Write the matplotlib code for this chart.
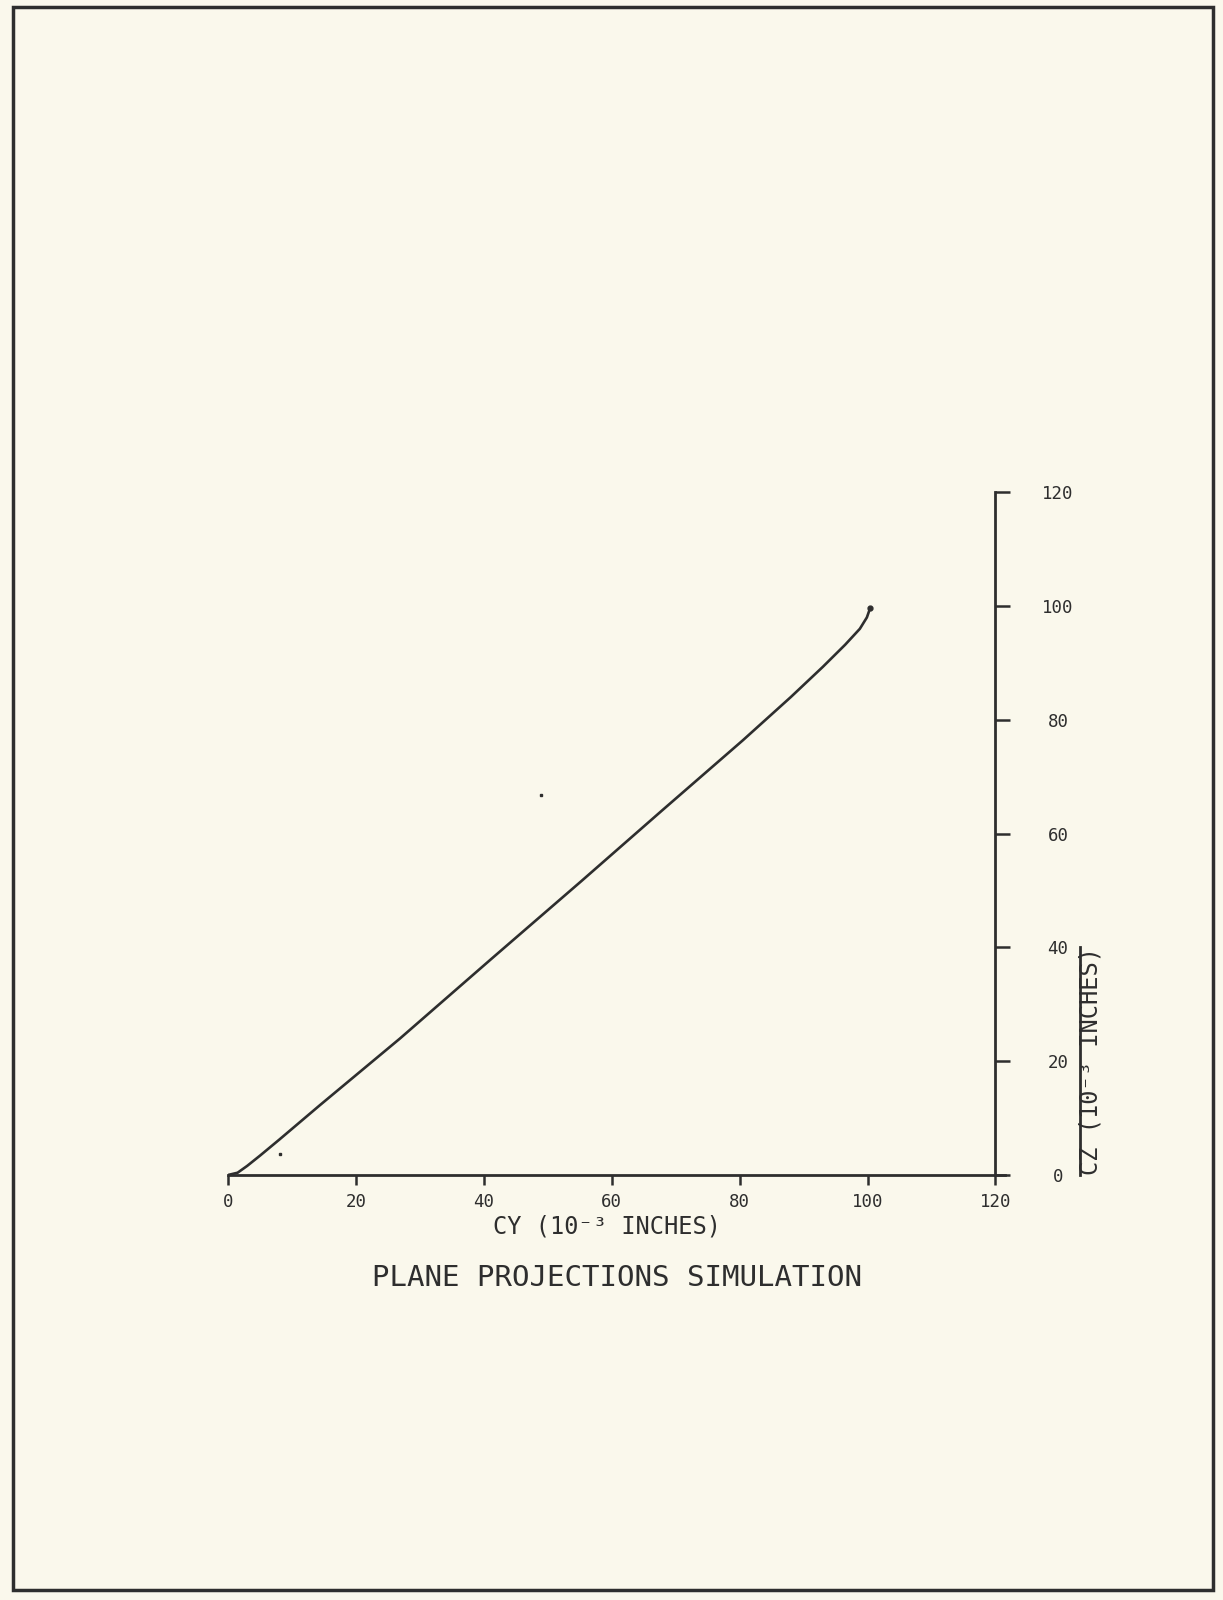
import numpy as np
import matplotlib
matplotlib.use("Agg")
import matplotlib.pyplot as plt
import matplotlib.transforms as mtransforms

# valores (10^-3 polegadas)
cy = [0, 1.5, 3.0, 5.0, 8.0, 14.4, 26.9, 41.2, 55.3, 67.8, 80.5, 88.0, 93.0, 96.5, 98.8, 99.9, 100.4]
cz = [0, 0.4, 1.6, 3.4, 6.2, 12.3, 24.0, 38.0, 51.7, 64.0, 76.4, 84.0, 89.3, 93.2, 96.0, 98.0, 99.6]

# pontinhos soltos do papel
mancha_x = [48.9, 8.1]
mancha_y = [66.8, 3.7]

ticks = [0, 20, 40, 60, 80, 100, 120]
tick_labels = ["0", "20", "40", "60", "80", "100", "120"]

papel = "#faf8ec"
tinta = "#2e2e2e"
fonte = ["DejaVu Sans Mono"]

fig = plt.figure(figsize=(12.23, 16), dpi=100, facecolor=papel)

# moldura da página
fig.patches.append(plt.Rectangle((13 / 1223, 10 / 1600), 1200 / 1223, 1583 / 1600,
                                 transform=fig.transFigure, fill=False,
                                 edgecolor=tinta, linewidth=2.5))

ax = fig.add_axes([228 / 1223, 425 / 1600, 777 / 1223, 685 / 1600])
ax.set_facecolor(papel)
ax.set_xlim(0, 121.5)
ax.set_ylim(0, 120.4)

ax.plot(cy, cz, color=tinta, linewidth=1.9, solid_capstyle="round",
        solid_joinstyle="round")
ax.plot(cy[-1], cz[-1], "o", color=tinta, markersize=3.5)
ax.plot(mancha_x, mancha_y, "s", color=tinta, markersize=1.6)

for lado in ["top", "left"]:
    ax.spines[lado].set_visible(False)
ax.spines["right"].set_position(("data", 120))
ax.spines["right"].set_bounds(0, 120)
for lado in ["bottom", "right"]:
    ax.spines[lado].set_color(tinta)
    ax.spines[lado].set_linewidth(2.0)

ax.yaxis.tick_right()
ax.set_xticks(ticks)
ax.set_xticklabels(tick_labels, family=fonte, fontsize=12.5, color=tinta)
ax.set_yticks(ticks)
ax.set_yticklabels(tick_labels, family=fonte, fontsize=12.5, color=tinta)
for lbl in ax.get_yticklabels():
    lbl.set_horizontalalignment("center")
ax.tick_params(axis="x", direction="out", length=7, width=1.8, color=tinta, pad=6)
ax.tick_params(axis="y", direction="out", length=11, width=1.8, color=tinta, pad=34)

ax.text(0.488, -0.075, "CY (10⁻³ INCHES)", transform=ax.transAxes, ha="center",
        va="center", family=fonte, fontsize=17, color=tinta)
ax.text(0.50, -0.15, "PLANE PROJECTIONS SIMULATION", transform=ax.transAxes,
        ha="center", va="center", family=fonte, fontsize=21, color=tinta)

# rótulo vertical do eixo CZ, com o traço ao lado
trans = mtransforms.blended_transform_factory(ax.transAxes, ax.transData)
ax.text(1.11, 20, "CZ (10⁻³ INCHES)", transform=trans, rotation=90, ha="center",
        va="center", family=fonte, fontsize=17, color=tinta, clip_on=False)
ax.plot([1.097, 1.097], [0, 40], transform=trans, color=tinta, linewidth=2,
        clip_on=False)

fig.savefig("out.png", dpi=100, facecolor=papel)
